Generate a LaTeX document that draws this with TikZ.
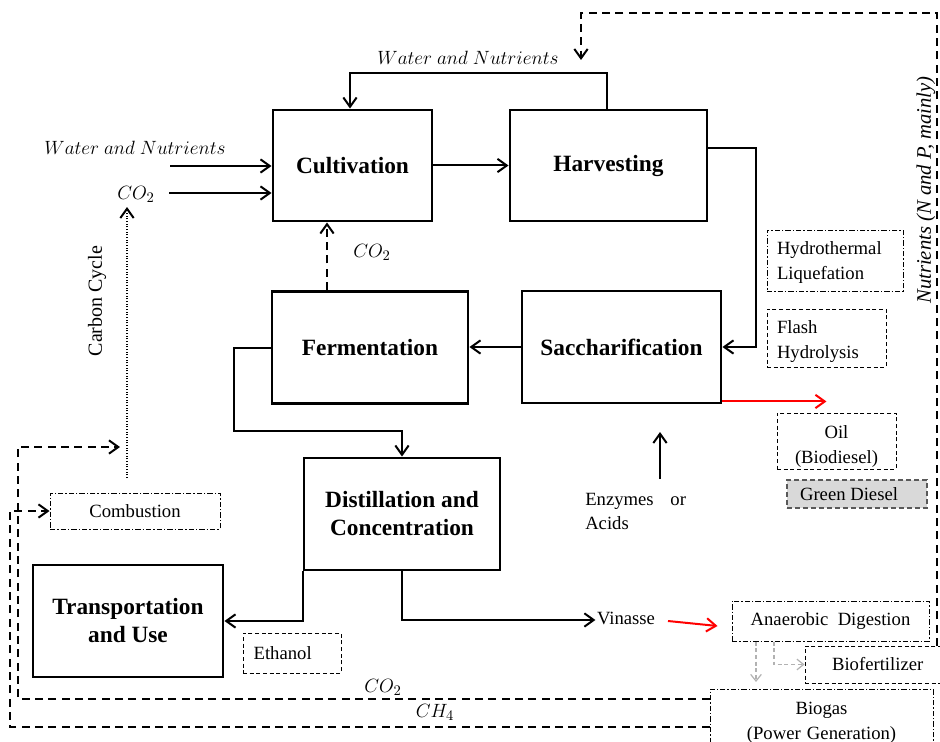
\documentclass[tikz,border=0pt]{standalone}
\usepackage{fontspec}
\setmainfont{Liberation Serif}
\usetikzlibrary{arrows.meta}
\begin{document}
\begin{tikzpicture}[x=0.75pt,y=-0.75pt,
  bigbox/.style={draw, line width=2.2pt, inner sep=0pt, align=center, font=\fontsize{17.5}{21}\selectfont\bfseries},
  thinbox/.style={draw, line width=0.75pt, inner sep=0pt, align=center, font=\fontsize{14}{18.75}\selectfont},
  dashbox/.style={thinbox, dash pattern=on 3pt off 2pt},
  ddbox/.style={thinbox, dash pattern=on 4pt off 1.5pt on 1pt off 1.5pt},
  conn/.style={line width=1.5pt, -{Straight Barb[length=7pt,width=10pt]}},
  dconn/.style={conn, dash pattern=on 6pt off 4pt},
  dotarr/.style={conn, dash pattern=on 0.8pt off 1.2pt},
  redarr/.style={conn, red},
  greyarr/.style={line width=0.9pt, gray!60, dash pattern=on 3pt off 2pt, -{Straight Barb[length=5pt,width=8pt]}},
  mlbl/.style={inner sep=1pt, font=\fontsize{15}{18}\selectfont},
  tlbl/.style={inner sep=1pt, font=\fontsize{14}{18}\selectfont}
]
\useasboundingbox (0,0) rectangle (940,742);

% main process boxes
\node[bigbox, minimum width=119.25pt, minimum height=83.25pt] (cult) at (352.5,165.5) {Cultivation};
\node[bigbox, minimum width=147.75pt, minimum height=83.25pt] (harv) at (608.5,165.5) {Harvesting};
\node[bigbox, minimum width=149.25pt, minimum height=84pt] (sacc) at (621.5,347) {Saccharification};
\node[bigbox, minimum width=147pt, minimum height=84pt] (ferm) at (370,347.5) {Fermentation};
\node[bigbox, minimum width=147pt, minimum height=84pt] (dist) at (402,514) {Distillation and\\Concentration};
\node[bigbox, minimum width=142.5pt, minimum height=84pt] (trans) at (128,621) {Transportation\\and Use};

% small boxes
\node[ddbox, align=left, inner xsep=7.5pt, text width=87pt, minimum height=45.75pt, text height=10pt, text depth=19.75pt] (hydro) at (835,260.5) {Hydrothermal\\Liquefation};
\node[dashbox, align=left, inner xsep=7.5pt, text width=74.25pt, minimum height=43.5pt, text height=10pt, text depth=17.5pt] (flash) at (826.5,338) {Flash\\Hydrolysis};
\node[dashbox, align=center, text width=89.25pt, minimum height=42pt, text height=10pt, text depth=14.5pt] (oil) at (836.5,441) {Oil\\(Biodiesel)};
\node[dashbox, line width=1.1pt, draw=gray!70!black, fill=gray!30, dash pattern=on 4pt off 2pt, minimum width=105pt, minimum height=21pt] (green) at (857,494) {Green Diesel\hspace{12pt}};
\node[ddbox, minimum width=127.5pt, minimum height=27pt] (comb) at (135,511) {Combustion};
\node[dashbox, minimum width=73.5pt, minimum height=30pt] (eth) at (292,653) {Ethanol\hspace{14pt}};
\node[ddbox, minimum width=147.75pt, minimum height=30pt] (anae) at (830.5,621) {Anaerobic\ \ Digestion};
\node[dashbox, minimum width=105pt, minimum height=27.75pt] (biof) at (875,664.5) {\hspace{4pt}Biofertilizer};
\node[ddbox, align=center, text width=167.25pt, minimum height=45pt, text height=10pt, text depth=17.5pt] (bio) at (821.5,719) {Biogas\\(Power Generation)};

% labels
\node[mlbl] (wnt) at (468,58) {$Water\ and\ Nutrients$};
\node[mlbl] (wnl) at (135,148) {$Water\ and\ Nutrients$};
\node[mlbl] (co2a) at (136,194) {$CO_2$};
\node[mlbl] (co2b) at (372,252) {$CO_2$};
\node[mlbl] (co2c) at (383,687) {$CO_2$};
\node[mlbl] (ch4) at (435,712) {$CH_4$};
\node[rotate=90, inner sep=1pt, font=\fontsize{15}{18}\selectfont] (cc) at (97,301) {Carbon Cycle};
\node[rotate=90, inner sep=1pt, font=\itshape\fontsize{15.5}{18}\selectfont] (nut) at (926,190) {Nutrients (N and P, mainly)};
\node[tlbl] (vin) at (626,618) {Vinasse};
\node[tlbl, anchor=north west, align=left, inner sep=0pt] (enz) at (585,493) {Enzymes\hspace{0.9em}or\\Acids};

% coordinates for free ends
\coordinate (wnstart) at (170,166);
\coordinate (co2start) at (169,193);
\coordinate (enzs) at (660,479);
\coordinate (enze) at (660,432);
\coordinate (dots) at (127,478);
\coordinate (dote) at (127,207);
\coordinate (cyc) at (120,447);
\coordinate (vinred) at (668,621);
\coordinate (nutstart) at (937,646);
\coordinate (nutend) at (581,60);

% connectors
\draw[conn] (cult.east) -- (harv.west);
\draw[conn] (harv.north -| 607,0) -- (607,73) -| (cult.north -| 350,0);
\draw[conn] (wnstart) -- (cult.west |- wnstart);
\draw[conn] (co2start) -- (cult.west |- co2start);
\draw[conn] (harv.east |- 0,148) -| (756,347) -- (sacc.east);
\draw[conn] (sacc.west) -- (ferm.east |- sacc.west);
\draw[dconn] (ferm.north -| 327,0) -- (cult.south -| 327,0);
\draw[conn] (ferm.west) -| (234,431) -| (dist.north);
\draw[conn] (dist.south west) |- (trans.east);
\draw[conn] (dist.south) |- (vin.west |- 0,620);
\draw[redarr] (vinred) -- ([xshift=-10.5pt,yshift=-3.75pt]anae.west);
\draw[redarr] ([yshift=2.25pt]sacc.south east) -- ++(104,0);
\draw[conn] (enzs) -- (enze);
\draw[dotarr] (dots) -- (dote);
\draw[dconn] (bio.west |- 0,699) -| (18,447) -- (cyc);
\draw[dconn] (bio.west |- 0,727) -| (10,511) -- (comb.west);
\draw[dconn] (nutstart) -- (937,13) -| (nutend);
\draw[greyarr] (anae.south -| 756,0) -- (756,682);
\draw[greyarr] (anae.south -| 774,0) |- (biof.west);
\end{tikzpicture}
\end{document}
